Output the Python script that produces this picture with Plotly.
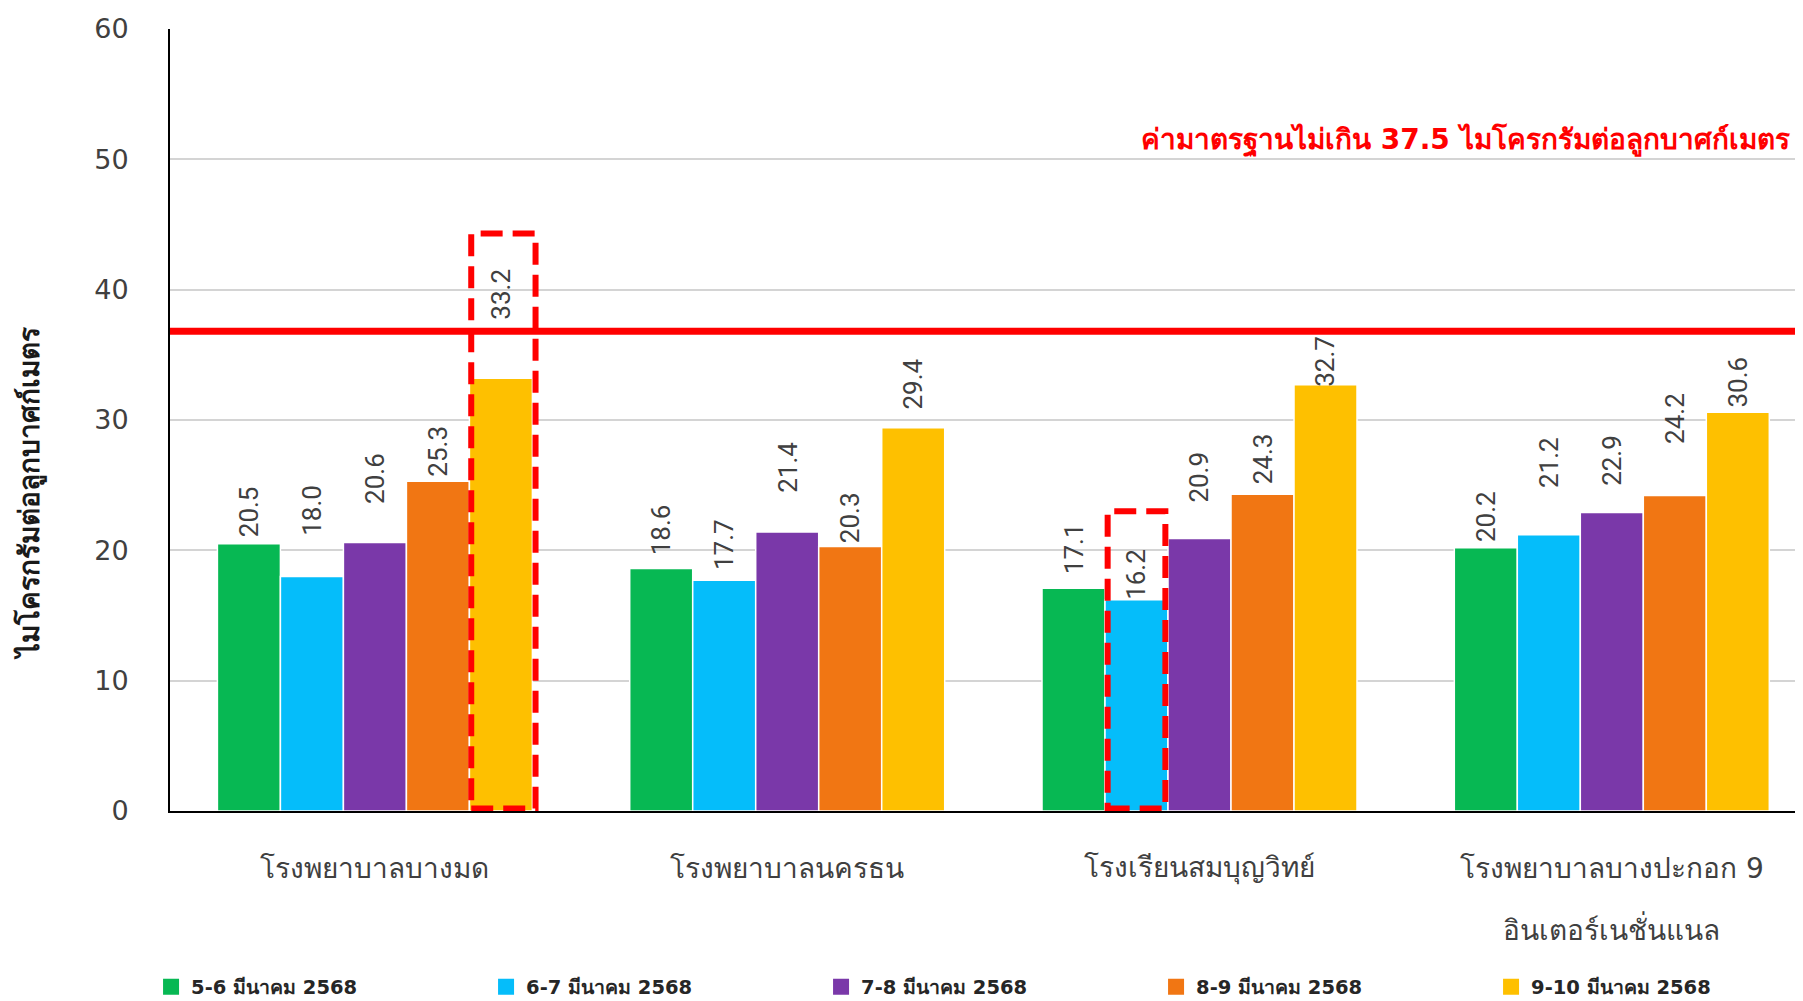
import plotly.graph_objects as go

categories = ["โรงพยาบาลบางมด", "โรงพยาบาลนครธน", "โรงเรียนสมบุญวิทย์",
              "โรงพยาบาลบางปะกอก 9\nอินเตอร์เนชั่นแนล"]
series_names = ["5-6 มีนาคม 2568", "6-7 มีนาคม 2568", "7-8 มีนาคม 2568",
                "8-9 มีนาคม 2568", "9-10 มีนาคม 2568"]
values_5_6 = [20.5, 18.6, 17.1, 20.2]
values_6_7 = [18.0, 17.7, 16.2, 21.2]
values_7_8 = [20.6, 21.4, 20.9, 22.9]
values_8_9 = [25.3, 20.3, 24.3, 24.2]
values_9_10 = [33.2, 29.4, 32.7, 30.6]
series_values = [values_5_6, values_6_7, values_7_8, values_8_9, values_9_10]
colors = ["#07B853", "#05BDFA", "#7A38A9", "#F17613", "#FEC000"]

standard_line = 36.8
standard_text = "ค่ามาตรฐานไม่เกิน 37.5 ไมโครกรัมต่อลูกบาศก์เมตร"
y_title = "ไมโครกรัมต่อลูกบาศก์เมตร"
y_ticks = [0, 10, 20, 30, 40, 50, 60]

# highlighted bars: (category index, series index, box top value)
highlights = [(0, 4, 44.3), (2, 1, 23.0)]
# style for the dashed boxes: (half width, x nudge) in category units
highlight_style = [(0.078, 0.006), (0.070, 0.0)]

# style: pixel gap between each bar top and its (hand-placed) value label, per series
label_gaps = [[11, 17, 18, 10],
              [45, 14, 4, 51],
              [43, 43, 40, 31],
              [9, 7, 14, 56],
              [63, 22, 2, 9]]
label_gap_trim = -6

FONT = "Tahoma, 'DejaVu Sans', sans-serif"
LABEL_FONT = "Roboto, 'DejaVu Sans', sans-serif"
bargap = 0.236
n_series = len(series_names)
group_w = 1 - bargap
bar_w = group_w / n_series

# page body has an 8px default margin; figure is sized to fill the window exactly
W, H, BODY = 1803, 1001, 8
fig_w, fig_h = W - BODY, H - BODY
m_l, m_t, m_b = 170 - BODY, 29 - BODY, 190
plot_w = fig_w - m_l

fig = go.Figure()
xs = list(range(len(categories)))
for name, vals, col in zip(series_names, series_values, colors):
    fig.add_trace(go.Bar(x=xs, y=vals, name=name, marker_color=col,
                         marker_line_color="white", marker_line_width=1.5,
                         showlegend=False))
# legend entries with larger square swatches
for name, col in zip(series_names, colors):
    fig.add_trace(go.Scatter(x=[None], y=[None], mode="markers", name=f"<b>{name}</b>",
                             marker=dict(symbol="square", size=16, color=col),
                             showlegend=True))

annotations = []
for si, vals in enumerate(series_values):
    for ci, v in enumerate(vals):
        xc = ci - group_w / 2 + bar_w * (si + 0.5)
        annotations.append(dict(x=xc, y=v, text=f"{v:.1f}", showarrow=False,
                                textangle=-90, xanchor="center", yanchor="bottom",
                                yshift=label_gaps[si][ci] + label_gap_trim,
                                font=dict(family=LABEL_FONT, size=26, color="#404040")))

for ci, cat in enumerate(categories):
    for li, line in enumerate(cat.split("\n")):
        annotations.append(dict(x=ci, y=0, text=line, showarrow=False,
                                xanchor="center", yanchor="middle",
                                yshift=-57 - 61 * li,
                                font=dict(family=FONT, size=28, color="#404040")))

annotations.append(dict(x=1, xref="paper", xanchor="right", xshift=-11,
                        y=51.5, yanchor="middle", text=f"<b>{standard_text}</b>",
                        showarrow=False,
                        font=dict(family=FONT, size=28, color="#FF0000")))

annotations.append(dict(x=(29 - 170) / plot_w, xref="paper", xanchor="center",
                        y=24.3, yanchor="middle", textangle=-90, showarrow=False,
                        text=f"<b>{y_title}</b>",
                        font=dict(family=FONT, size=28, color="#1A1A1A")))

shapes = [dict(type="line", xref="paper", x0=0, x1=1, y0=standard_line, y1=standard_line,
               line=dict(color="#FF0000", width=7), layer="above")]
for (ci, si, top), (hw, nudge) in zip(highlights, highlight_style):
    xc = ci - group_w / 2 + bar_w * (si + 0.5) + nudge
    shapes.append(dict(type="rect", x0=xc - hw, x1=xc + hw, y0=0.2, y1=top,
                       line=dict(color="#FF0000", width=6, dash="22px,10px"),
                       layer="above"))

cat_px = 412.3
x0 = -0.497
fig.update_layout(
    width=fig_w, height=fig_h,
    margin=dict(l=m_l, r=0, t=m_t, b=m_b, pad=0, autoexpand=False),
    paper_bgcolor="white", plot_bgcolor="white",
    barmode="group", bargap=bargap, bargroupgap=0,
    font=dict(family=FONT, color="#404040"),
    xaxis=dict(range=[x0, x0 + plot_w / cat_px], showticklabels=False,
               showgrid=False, showline=True, linecolor="black", linewidth=2,
               zeroline=False, fixedrange=True, automargin=False),
    yaxis=dict(range=[0, 60], tickvals=y_ticks, showgrid=True, gridcolor="#D4D4D4",
               gridwidth=2, showline=True, linecolor="black", linewidth=2,
               zeroline=False, ticks="", ticklabelstandoff=34, automargin=False,
               tickfont=dict(family=FONT, size=27, color="#404040")),
    legend=dict(orientation="h", x=-0.0116, xanchor="left", y=-0.225, yanchor="middle",
                entrywidth=290, entrywidthmode="pixels",
                font=dict(family=FONT, size=19.5, color="#262626"),
                traceorder="normal"),
    annotations=annotations, shapes=shapes,
)

fig.write_html("out.html")
